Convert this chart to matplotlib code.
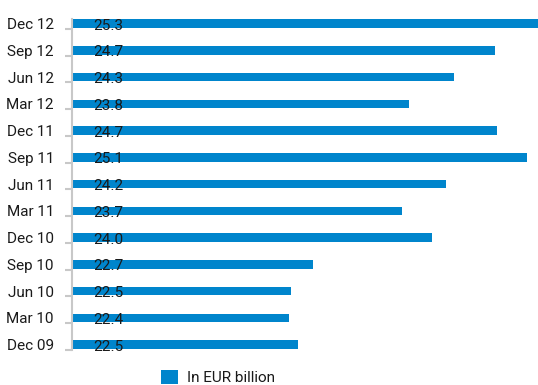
import matplotlib.pyplot as plt
from matplotlib import font_manager

# data, bottom to top
quarters = ['Dec 09', 'Mar 10', 'Jun 10', 'Sep 10', 'Dec 10', 'Mar 11', 'Jun 11',
            'Sep 11', 'Dec 11', 'Mar 12', 'Jun 12', 'Sep 12', 'Dec 12']
# printed labels
labels = [22.5, 22.4, 22.5, 22.7, 24.0, 23.7, 24.2, 25.1, 24.7, 23.8, 24.3, 24.7, 25.3]
# bar lengths (unrounded)
values = [22.47, 22.37, 22.39, 22.64, 23.99, 23.65, 24.15, 25.08, 24.73, 23.73, 24.24, 24.71, 25.3]
series_name = 'In EUR billion'

names = {f.name for f in font_manager.fontManager.ttflist}
family = ['Liberation Sans Narrow'] if 'Liberation Sans Narrow' in names else ['Roboto']
plt.rcParams['font.family'] = family + ['DejaVu Sans']

blue = '#0085cc'
grey = '#c8c8c8'
txt = '#1a1a1a'

fig = plt.figure(figsize=(5.38, 3.85), dpi=100)
ax = fig.add_axes([72 / 538, 1 - 350 / 385, 1 - 72 / 538, (350 - 19) / 385])

pos = list(range(len(quarters)))
ax.barh(pos, values, height=0.32, color=blue, label=series_name, zorder=2)

xmin = 19.9
ax.set_xlim(xmin, 25.2)
ax.set_ylim(-0.2, 12.17)

for p, v in zip(pos, labels):
    ax.annotate(f'{v:.1f}', xy=(xmin, p), xytext=(15, -1.5), textcoords='offset points',
                ha='left', va='center', fontsize=11, color=txt)

for s in ['top', 'right', 'bottom']:
    ax.spines[s].set_visible(False)
ax.spines['left'].set_color(grey)
ax.spines['left'].set_linewidth(1.5)
ax.set_xticks([])
ax.set_yticks(pos)
ax.set_yticklabels(quarters, fontsize=11, color=txt)
ax.tick_params(axis='y', which='major', length=0, pad=13)
ax.set_yticks([p - 0.2 for p in pos], minor=True)
ax.tick_params(axis='y', which='minor', length=5, width=1.5, color=grey)

fig.legend(loc='center', bbox_to_anchor=(0.405, 0.02), frameon=False, fontsize=11,
           handlelength=1.1, handleheight=1.1, handletextpad=0.6, labelcolor=txt)

fig.savefig('out.png', dpi=100)
